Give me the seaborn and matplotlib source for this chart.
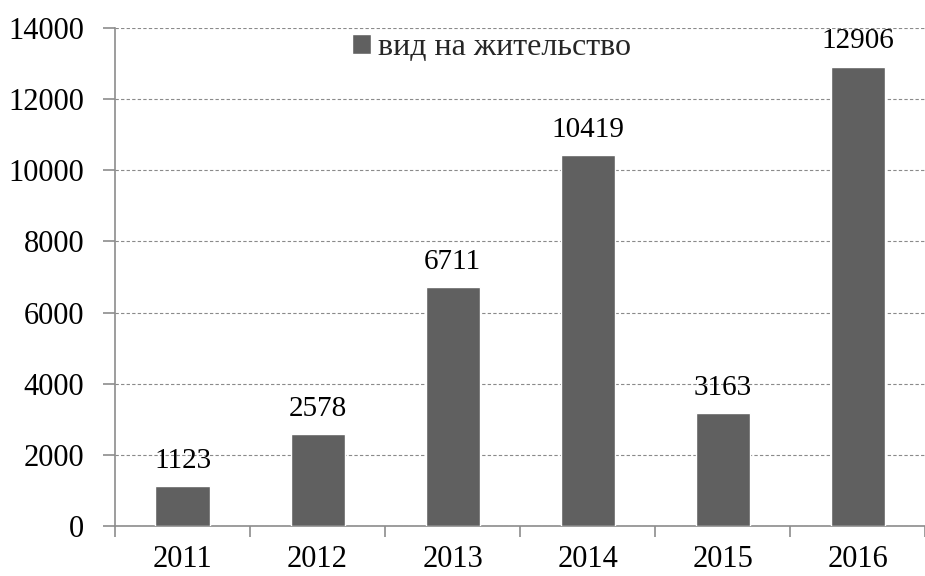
import numpy as np
import pandas as pd
import seaborn as sns
from matplotlib import pyplot as plt

years = ['2011', '2012', '2013', '2014', '2015', '2016']
permits = [1123, 2578, 6711, 10419, 3163, 12906]
series_name = 'вид на жительство'

sns.set_theme(style='white')
plt.rcParams['font.family'] = ['Liberation Serif', 'DejaVu Serif']

df = pd.DataFrame({'year': years, 'count': permits})

fig = plt.figure(figsize=(9.25, 5.76), dpi=100)
ax = fig.add_axes([0.1243, 0.0868, 0.876, 0.8646])

sns.barplot(data=df, x='year', y='count', color='#606060', saturation=1,
            width=0.4, label=series_name, ax=ax, zorder=3)

# подписи значений над столбиками
for i, v in enumerate(permits):
    ax.text(i, v + 350, str(v), ha='center', va='bottom', fontsize=21, color='black')

ax.set_ylim(0, 14000)
ax.set_xlim(-0.5, len(years) - 0.5)
ax.set_yticks(np.arange(0, 14001, 2000))
ax.yaxis.grid(True, linestyle=(0, (3, 2)), color='#8a8a8a', linewidth=0.8, zorder=0)
ax.set_axisbelow(True)

ax.set_xlabel('')
ax.set_ylabel('')
ax.tick_params(axis='y', labelsize=22, direction='out', length=9, width=1.2,
               color='#8c8c8c', left=True, pad=13, labelcolor='black')
ax.tick_params(axis='x', labelsize=22, length=0, pad=14, labelcolor='black')
ax.set_xticks(np.arange(-0.5, len(years)), minor=True)
ax.tick_params(axis='x', which='minor', direction='out', length=8, width=1.2,
               color='#8c8c8c', bottom=True)

for side in ['top', 'right']:
    ax.spines[side].set_visible(False)
for side in ['left', 'bottom']:
    ax.spines[side].set_color('#8c8c8c')
    ax.spines[side].set_linewidth(1.2)

ax.legend(loc='upper left', bbox_to_anchor=(0.265, 1.035), frameon=False,
          fontsize=23, handlelength=0.6, handleheight=0.6, handletextpad=0.2,
          borderpad=0.2)

fig.savefig('out.png', dpi=100)
